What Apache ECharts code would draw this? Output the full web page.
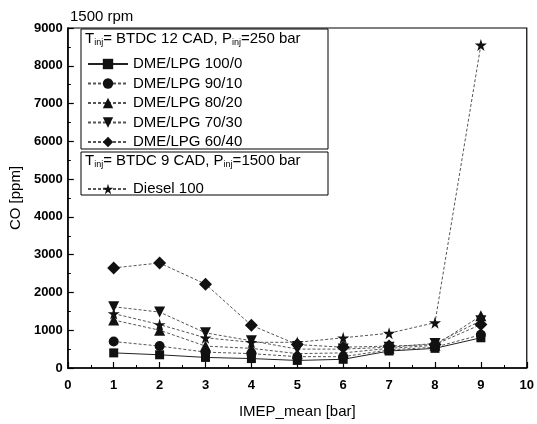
<!DOCTYPE html>
<html>
<head>
<meta charset="utf-8">
<script src="https://cdn.jsdelivr.net/npm/echarts@6/dist/echarts.min.js"></script>
<style>
html,body{margin:0;padding:0;background:#fff;}
#container{width:537px;height:424px;}
</style>
</head>
<body>
<div id="container"></div>
<script>
// IMEP_mean [bar] on x
var imep = [1, 2, 3, 4, 5, 6, 7, 8, 9];
// CO [ppm] per fuel
var co100_0 = [400, 350, 280, 250, 200, 230, 450, 520, 800];
var co90_10 = [700, 580, 420, 380, 300, 300, 480, 550, 880];
var co80_20 = [1270, 1000, 580, 520, 380, 400, 520, 600, 1380];
var co70_30 = [1620, 1480, 930, 720, 500, 500, 550, 650, 1250];
var co60_40 = [2650, 2780, 2220, 1130, 620, 550, 580, 620, 1150];
var diesel100 = [1440, 1150, 800, 680, 680, 800, 920, 1200, 8550];

var names = ['DME/LPG 100/0', 'DME/LPG 90/10', 'DME/LPG 80/20', 'DME/LPG 70/30', 'DME/LPG 60/40', 'Diesel 100'];

var FONT = '"Liberation Sans", Arial, sans-serif';
var star = 'path://M50,0 L61,35 L98,35 L68,57 L79,91 L50,70 L21,91 L32,57 L2,35 L39,35 Z';

function pairs(ys){
    var out = [];
    for (var i = 0; i < imep.length; i++) out.push([imep[i], ys[i]]);
    return out;
}

function mkSeries(name, ys, symbol, size, rotate, dash){
    return {
        name: name,
        type: 'line',
        data: pairs(ys),
        symbol: symbol,
        symbolSize: size,
        symbolRotate: rotate,
        showAllSymbol: true,
        itemStyle: {color: '#111', borderWidth: 0},
        lineStyle: {color: dash ? '#555' : '#222', width: 1, type: dash ? [3, 2] : 'solid'},
        emphasis: {disabled: true},
        z: 2
    };
}

var myChart = echarts.init(document.getElementById('container'));

var sub = {fontSize: 9, fontFamily: FONT, color: '#000', padding: [9, 0, 0, 0]};
var legendText = {fontSize: 15, color: '#000', lineHeight: 16, fontFamily: FONT};
var option = {
    animation: false,
    textStyle: {fontFamily: FONT},
    grid: {left: 66, right: 7, top: 28, bottom: 52, show: true, borderColor: '#000', borderWidth: 1.2},
    xAxis: {
        type: 'value', min: 0, max: 10, interval: 1,
        name: 'IMEP_mean [bar]', nameLocation: 'middle', nameGap: 36,
        nameTextStyle: {fontSize: 15, color: '#000', fontFamily: FONT},
        axisLine: {lineStyle: {color: '#000', width: 1.5}},
        axisTick: {inside: true, length: 6, lineStyle: {color: '#000', width: 1.2}},
        minorTick: {show: true, splitNumber: 2, length: 3, lineStyle: {color: '#000'}},
        axisLabel: {fontSize: 13, fontWeight: 'bold', color: '#000', margin: 11, fontFamily: FONT},
        splitLine: {show: false}
    },
    yAxis: {
        type: 'value', min: 0, max: 9000, interval: 1000,
        name: 'CO [ppm]', nameLocation: 'middle', nameGap: 40,
        nameTextStyle: {fontSize: 15, color: '#000', fontFamily: FONT},
        axisLine: {show: true, lineStyle: {color: '#000', width: 1.5}},
        axisTick: {show: true, inside: true, length: 6, lineStyle: {color: '#000', width: 1.2}},
        minorTick: {show: true, splitNumber: 2, length: 3, lineStyle: {color: '#000'}},
        axisLabel: {fontSize: 13, fontWeight: 'bold', color: '#000', margin: 5, fontFamily: FONT,
                    formatter: function (v) { return String(v); }},
        splitLine: {show: false}
    },
    legend: [{
        data: names.slice(0, 5),
        orient: 'vertical', left: 82, top: 51,
        itemWidth: 40, itemHeight: 13, itemGap: 3.5,
        textStyle: legendText,
        selectedMode: false, z: 6
    }, {
        data: [names[5]],
        orient: 'vertical', left: 82, top: 176,
        itemWidth: 40, itemHeight: 13,
        textStyle: legendText,
        selectedMode: false, z: 6
    }],
    graphic: [
        {type: 'text', left: 70, top: 9, z: 5,
         style: {text: '1500 rpm', fontSize: 15, fill: '#000', fontFamily: FONT}},
        {type: 'rect', shape: {x: 81, y: 29, width: 247, height: 120}, z: 4,
         style: {fill: '#fff', stroke: '#000', lineWidth: 1}},
        {type: 'rect', shape: {x: 81, y: 152, width: 247, height: 43}, z: 4,
         style: {fill: '#fff', stroke: '#000', lineWidth: 1}},
        {type: 'text', left: 85, top: 31, z: 5,
         style: {text: 'T{s|inj}= BTDC 12 CAD, P{s|inj}=250 bar', fontSize: 15, fill: '#000', fontFamily: FONT,
                 rich: {s: sub}}},
        {type: 'text', left: 85, top: 153, z: 5,
         style: {text: 'T{s|inj}= BTDC 9 CAD, P{s|inj}=1500 bar', fontSize: 15, fill: '#000', fontFamily: FONT,
                 rich: {s: sub}}}
    ],
    series: [
        mkSeries(names[0], co100_0, 'rect', 9, 0, false),
        mkSeries(names[1], co90_10, 'circle', 10, 0, true),
        mkSeries(names[2], co80_20, 'triangle', 11, 0, true),
        mkSeries(names[3], co70_30, 'triangle', 11, 180, true),
        mkSeries(names[4], co60_40, 'diamond', 13, 0, true),
        mkSeries(names[5], diesel100, star, 12, 0, true)
    ]
};

if (option && typeof option === 'object') {
    myChart.setOption(option, true);
}
</script>
</body>
</html>
